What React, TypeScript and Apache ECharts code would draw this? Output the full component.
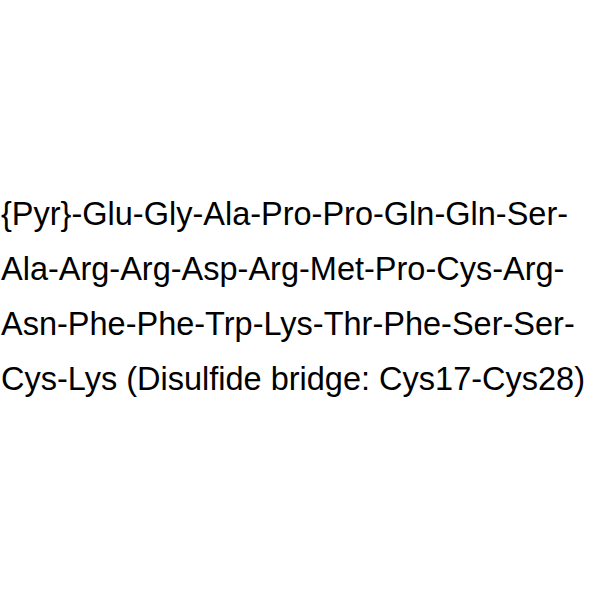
import React, { useEffect, useRef } from 'react'
import * as echarts from 'echarts'

// peptide sequence, one entry per printed line
const lines: string[] = [
  '{Pyr}-Glu-Gly-Ala-Pro-Pro-Gln-Gln-Ser-',
  'Ala-Arg-Arg-Asp-Arg-Met-Pro-Cys-Arg-',
  'Asn-Phe-Phe-Trp-Lys-Thr-Phe-Ser-Ser-',
  'Cys-Lys (Disulfide bridge: Cys17-Cys28)',
]

export default function App(): JSX.Element {
  const ref = useRef<HTMLDivElement>(null)

  useEffect(() => {
    if (!ref.current) return
    const chart = echarts.init(ref.current, undefined, { renderer: 'svg' })
    chart.setOption({
      animation: false,
      backgroundColor: '#ffffff',
      graphic: lines.map((t, i) => ({
        type: 'text',
        x: 1,
        y: 214 + i * 55,
        style: {
          text: t,
          fill: '#000000',
          fontSize: 32.5,
          fontFamily: 'Liberation Sans',
          verticalAlign: 'middle',
          align: 'left',
        },
      })),
    })
    return () => chart.dispose()
  }, [])

  return (
    <div style={{ position: 'fixed', left: 0, top: 0 }}>
      <div ref={ref} style={{ width: 600, height: 600 }} />
    </div>
  )
}
